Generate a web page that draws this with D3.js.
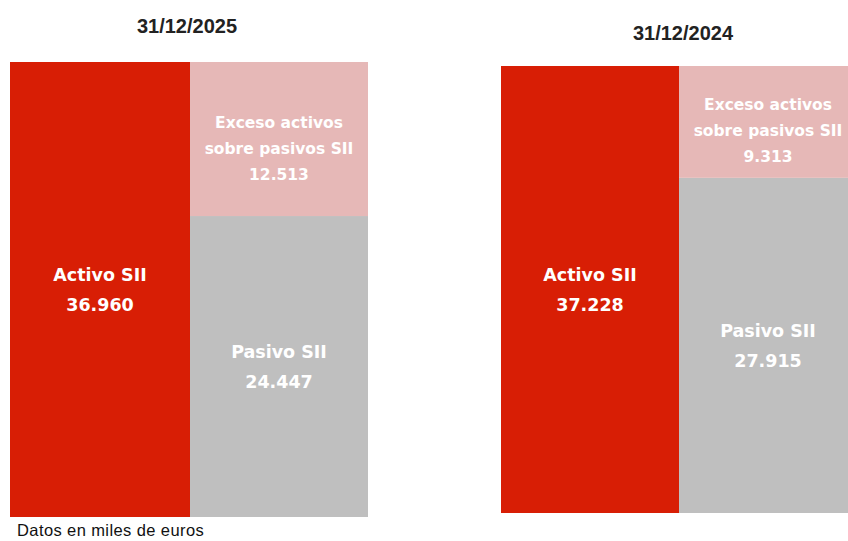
<!DOCTYPE html>
<html>
<head>
<meta charset="utf-8">
<script src="https://cdn.jsdelivr.net/npm/d3@7"></script>
<style>
  body { margin: 0; background: #fff; }
  svg { display: block; }
</style>
</head>
<body>
<div id="chart"></div>
<script>
// values in thousands of euros
var fechas = ['31/12/2025', '31/12/2024'];
var activo = [36960, 37228];
var pasivo = [24447, 27915];
var exceso = [12513, 9313];

var fmt = d3.formatLocale({ decimal: ',', thousands: '.', grouping: [3], currency: ['', '€'] }).format(',d');

var width = 848, height = 541;

var panels = [
    { left: 10, top: 62, bottom: 517, colW: 180, colW2: 178, titleX: 187, titleY: 33 },
    { left: 501, top: 66, bottom: 513, colW: 178, colW2: 178, titleX: 683, titleY: 40 }
];

var colors = { activo: '#d81e05', exceso: '#e6b8b7', pasivo: '#bfbfbf' };
var labelFont = '"DejaVu Sans", Verdana, sans-serif';

var svg = d3.select('#chart')
    .append('svg')
    .attr('width', width)
    .attr('height', height);

panels.forEach(function(p, i) {
    var y = d3.scaleLinear()
        .domain([0, activo[i]])
        .range([p.bottom, p.top]);

    var g = svg.append('g');

    g.append('text')
        .attr('x', p.titleX)
        .attr('y', p.titleY)
        .attr('text-anchor', 'middle')
        .style('font-family', '"Liberation Sans", Arial, sans-serif')
        .style('font-weight', '700')
        .style('font-size', '20px')
        .style('fill', '#222')
        .text(fechas[i]);

    // activo column
    g.append('rect')
        .attr('x', p.left)
        .attr('y', y(activo[i]))
        .attr('width', p.colW)
        .attr('height', y(0) - y(activo[i]))
        .attr('fill', colors.activo);

    // pasivo + exceso stacked
    var stack = [
        { key: 'pasivo', y0: 0, y1: pasivo[i], lines: ['Pasivo SII', fmt(pasivo[i])] },
        { key: 'exceso', y0: pasivo[i], y1: pasivo[i] + exceso[i], lines: ['Exceso activos', 'sobre pasivos SII', fmt(exceso[i])] }
    ];

    g.selectAll('rect.seg')
        .data(stack)
        .join('rect')
        .attr('class', 'seg')
        .attr('x', p.left + p.colW)
        .attr('y', d => y(d.y1))
        .attr('width', p.colW2)
        .attr('height', d => y(d.y0) - y(d.y1))
        .attr('fill', d => colors[d.key]);

    var labels = [
        { cx: p.left + p.colW / 2, cy: (y(0) + y(activo[i])) / 2, lines: ['Activo SII', fmt(activo[i])], size: 17.5, lh: 30 }
    ].concat(stack.map(function(d) {
        var ex = d.key === 'exceso';
        return {
            cx: p.left + p.colW + p.colW2 / 2,
            cy: (y(d.y0) + y(d.y1)) / 2 + (ex ? 9 : 0),
            lines: d.lines,
            size: ex ? 15.5 : 17.5,
            lh: ex ? 26 : 30
        };
    }));

    labels.forEach(function(l) {
        var n = l.lines.length;
        g.append('text')
            .attr('text-anchor', 'middle')
            .style('font-family', labelFont)
            .style('font-weight', '700')
            .style('font-size', l.size + 'px')
            .style('fill', '#fff')
            .selectAll('tspan')
            .data(l.lines)
            .join('tspan')
            .attr('x', l.cx)
            .attr('y', (d, k) => l.cy + (k - (n - 1) / 2) * l.lh)
            .attr('dy', '0.36em')
            .text(d => d);
    });
});

svg.append('text')
    .attr('x', 17)
    .attr('y', 536)
    .style('font-family', '"Liberation Sans", Arial, sans-serif')
    .style('font-size', '16.5px')
    .style('letter-spacing', '0.4px')
    .style('fill', '#111')
    .text('Datos en miles de euros');
</script>
</body>
</html>
